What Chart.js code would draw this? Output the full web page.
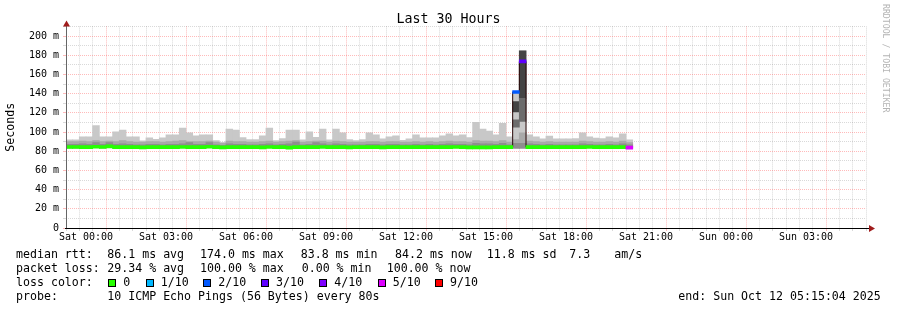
<!DOCTYPE html>
<html>
<head>
<meta charset="utf-8">
<title>Last 30 Hours</title>
<script src="https://cdn.jsdelivr.net/npm/chart.js@4/dist/chart.umd.min.js"></script>
<style>
  body { margin: 0; background: #fff; }
  #wrap { position: relative; width: 897px; height: 310px; font-family: "DejaVu Sans Mono", monospace; color: #000; }
  canvas { position: absolute; left: 0; top: 0; }
  #title { position: absolute; left: 0; top: 11px; width: 897px; text-align: center; font-size: 13.3px; line-height: 16px; }
  #brand { position: absolute; left: 881px; top: 4px; writing-mode: vertical-rl; font-size: 8.2px; line-height: 10px; color: #b4b4b4; }
  .t { position: absolute; white-space: pre; font-size: 11.6px; line-height: 14px; }
  .box { position: absolute; width: 6px; height: 6px; border: 1px solid #000; }
</style>
</head>
<body>
<div id="wrap">
  <canvas id="myChart" width="897" height="310"></canvas>
  <div id="title">Last 30 Hours</div>
  <div id="brand">RRDTOOL / TOBI OETIKER</div>
  <div id="legend"></div>
</div>
<script>
// 15 minute bins from Fri 23:15, values in ms
const pingMax = [
  91.7, 91.7, 95, 95, 106.6, 95, 95, 100, 102, 95,
  95, 90.6, 93.8, 92.4, 93.8, 97, 97, 104, 99, 96,
  97, 97, 91, 89, 103, 102, 94, 92, 92, 96,
  104, 91, 93, 102, 102, 91.7, 100, 94.5, 103, 91.7,
  103, 99, 92, 91, 92, 99, 97, 92.7, 94.8, 96,
  91.3, 92.7, 97, 93.8, 93.8, 93.8, 96, 98, 96, 97,
  94, 110, 103, 101, 97, 109, 95, 141.7, 184.4, 97,
  95, 92.7, 95.8, 92.7, 92.7, 92.7, 93, 99, 95, 93.5,
  93, 95, 93.8, 98, 91.7
];
const pingMin = [
  83.6, 83.6, 83.6, 83.6, 83.8, 83.6, 84.0, 83.6, 83.6, 83.6,
  83.6, 83.4, 83.6, 83.6, 83.6, 83.6, 83.6, 83.8, 83.6, 83.6,
  83.6, 83.8, 83.6, 83.4, 83.6, 83.6, 83.6, 83.6, 83.6, 83.4,
  83.8, 83.6, 83.6, 83.2, 83.6, 83.6, 83.6, 83.6, 83.8, 83.6,
  83.6, 83.6, 83.4, 83.6, 83.6, 83.6, 83.6, 83.4, 83.6, 83.6,
  83.6, 83.6, 83.6, 83.6, 83.6, 83.6, 83.6, 83.6, 83.8, 83.6,
  83.4, 83.2, 83.2, 83.2, 83.6, 83.6, 83.6, 83.3, 83.3, 83.6,
  83.6, 83.6, 83.6, 83.6, 83.6, 83.6, 83.6, 83.6, 83.8, 83.6,
  83.6, 83.6, 83.6, 83.6, 83.2
];
const band2Top = [
  90, 90, 90.5, 90, 91, 90, 90.5, 90, 91, 90,
  89.5, 89.5, 90, 90, 89.5, 90, 90.5, 91, 90, 90,
  90, 90.5, 89.5, 88.5, 90.5, 90, 90, 89.5, 89.5, 90,
  90.5, 89.5, 90, 90.5, 91, 89.5, 90, 90.5, 90.5, 89.5,
  90.5, 90, 89.5, 89.5, 89.5, 90, 90, 89.5, 90, 90,
  89.5, 89.5, 90, 89.5, 90, 89.5, 90, 90.5, 90, 90,
  89.5, 91, 90.5, 90.5, 90, 91, 89.5, 92, 99, 90.5,
  90, 89.5, 90, 89.5, 89.5, 89.5, 89.5, 90.5, 90, 89.5,
  89.5, 90, 89.5, 90.5, 89
];
const band3Top = [
  87, 87, 87.5, 87, 89, 87, 89, 87, 87.5, 87,
  86.5, 86.5, 87, 87, 86.5, 87, 87, 87.5, 89, 87,
  87, 89, 86.5, 86, 87.5, 87, 87, 86.5, 86.5, 87,
  87.5, 86.5, 87, 87.5, 89.5, 86.5, 87, 89, 87.5, 86.5,
  87.5, 87, 86.5, 86.5, 86.5, 87, 87, 86.5, 87, 87,
  86.5, 86.5, 87, 86.5, 87, 86.5, 87, 87.5, 87, 87,
  86.5, 88, 87.5, 87.5, 87, 88, 86.5, 88, 88, 87.5,
  87, 86.5, 87, 86.5, 86.5, 86.5, 86.5, 87.5, 87, 86.5,
  86.5, 87, 86.5, 87.5, 86.5
];
const medianRtt = [
  84.4, 84.4, 84.2, 84.2, 84.6, 84.4, 85.0, 84.2, 84.2, 84.2,
  84.2, 84.0, 84.2, 84.2, 84.2, 84.2, 84.2, 84.4, 84.2, 84.2,
  84.2, 84.6, 84.2, 84.0, 84.2, 84.2, 84.2, 84.2, 84.2, 84.0,
  84.4, 84.2, 84.2, 83.8, 84.2, 84.2, 84.2, 84.2, 84.4, 84.2,
  84.2, 84.2, 84.0, 84.2, 84.2, 84.2, 84.2, 84.0, 84.2, 84.2,
  84.2, 84.2, 84.2, 84.2, 84.2, 84.2, 84.2, 84.2, 84.4, 84.2,
  84.0, 84.0, 84.0, 84.0, 84.2, 84.2, 84.2, 141.7, 173.5, 84.2,
  84.2, 84.2, 84.2, 84.2, 84.2, 84.2, 84.2, 84.2, 84.4, 84.2,
  84.2, 84.2, 84.2, 84.2, 83.8
];
// lost pings out of 10 per bin
const lossTenths = [
  0, 0, 0, 0, 0, 0, 0, 0, 0, 0,
  0, 0, 0, 0, 0, 0, 0, 0, 0, 0,
  0, 0, 0, 0, 0, 0, 0, 0, 0, 0,
  0, 0, 0, 0, 0, 0, 0, 0, 0, 0,
  0, 0, 0, 0, 0, 0, 0, 0, 0, 0,
  0, 0, 0, 0, 0, 0, 0, 0, 0, 0,
  0, 0, 0, 0, 0, 0, 0, 2, 3, 0,
  0, 0, 0, 0, 0, 0, 0, 0, 0, 0,
  0, 0, 0, 0, 5
];
// extra smoke slices inside the two outage bins
const spikeBins = [67, 68];
const spikeGrey = [[105, 112.5], [111, 135]];
const spikeDark = [[121, 131.6], [135, 184.4]];

const lossLevels = ['0', '1/10', '2/10', '3/10', '4/10', '5/10', '9/10'];
const lossLevelTenths = [0, 1, 2, 3, 4, 5, 9];
const lossColors = ['#26ff00', '#00b8ff', '#0059ff', '#5e00ff', '#7e00ff', '#dd00ff', '#ff0000'];

// x axis: hours since Fri 23:15
const xLabelHours = [0.75, 3.75, 6.75, 9.75, 12.75, 15.75, 18.75, 21.75, 24.75, 27.75];
const xLabelText = ['Sat 00:00', 'Sat 03:00', 'Sat 06:00', 'Sat 09:00', 'Sat 12:00',
                    'Sat 15:00', 'Sat 18:00', 'Sat 21:00', 'Sun 00:00', 'Sun 03:00'];
const yLabelValues = [0, 20, 40, 60, 80, 100, 120, 140, 160, 180, 200];
const yLabelText = ['0', '20 m', '40 m', '60 m', '80 m', '100 m', '120 m', '140 m', '160 m', '180 m', '200 m'];

const BIN = 0.25;
const MEDIAN_HALF = 1.5;
const MONO = 'DejaVu Sans Mono';
const RED_GRID = 'rgba(255, 0, 0, 0.27)';
const GREY_GRID = 'rgba(0, 0, 0, 0.15)';

function colorForLoss(n) {
  let c = lossColors[0];
  lossLevelTenths.forEach((t, i) => { if (n >= t) c = lossColors[i]; });
  return c;
}

const center = i => (i + 0.5) * BIN;
const band = (lo, hi) => lo.map((v, i) => ({ x: center(i), y: [v, hi[i]] }));

const medianSteps = medianRtt.map((v, i) => ({ x: i * BIN, y: v }));
medianSteps.push({ x: medianRtt.length * BIN, y: medianRtt[medianRtt.length - 1] });

// grid every 30 min, red every 3 h starting Sat 01:00
const gridHours = [];
for (let h = 0.25; h < 30; h += 0.5) gridHours.push(h);
const isMajor = h => Math.abs(((h - 1.75) % 3 + 3) % 3) < 1e-6;
const xGridColor = c => (c.tick && isMajor(c.tick.value)) ? RED_GRID : GREY_GRID;
const yGridColor = c => (c.tick && c.tick.value % 20 === 0) ? RED_GRID : GREY_GRID;

const axisArrows = {
  id: 'axisArrows',
  afterDraw(chart) {
    const { ctx, chartArea: a } = chart;
    ctx.save();
    ctx.lineWidth = 1;
    ctx.strokeStyle = '#666';
    ctx.beginPath();
    ctx.moveTo(a.left + 0.5, a.bottom);
    ctx.lineTo(a.left + 0.5, a.top - 3);
    ctx.stroke();
    ctx.strokeStyle = '#000';
    ctx.beginPath();
    ctx.moveTo(a.left - 1, a.bottom + 0.5);
    ctx.lineTo(a.right + 4, a.bottom + 0.5);
    ctx.stroke();
    ctx.fillStyle = '#a01c1c';
    ctx.beginPath();
    ctx.moveTo(a.left - 3, a.top);
    ctx.lineTo(a.left + 4, a.top);
    ctx.lineTo(a.left + 0.5, a.top - 6);
    ctx.fill();
    ctx.beginPath();
    ctx.moveTo(a.right + 3, a.bottom - 3);
    ctx.lineTo(a.right + 3, a.bottom + 4);
    ctx.lineTo(a.right + 9, a.bottom + 0.5);
    ctx.fill();
    ctx.restore();
  }
};

function initializeSmokeChart() {
  const ctx = document.getElementById('myChart').getContext('2d');
  new Chart(ctx, {
    type: 'bar',
    data: {
      datasets: [
        { label: 'smoke', data: band(pingMin, pingMax), backgroundColor: '#c8c8c8', order: 6 },
        { label: 'smoke2', data: band(pingMin, band2Top), backgroundColor: '#a9a9a9', order: 5 },
        { label: 'smoke3', data: band(pingMin, band3Top), backgroundColor: '#8e8e8e', order: 4 },
        { label: 'spikeGrey', data: spikeBins.map((b, j) => ({ x: center(b), y: spikeGrey[j] })), backgroundColor: '#6c6c6c', order: 3 },
        { label: 'spikeDark', data: spikeBins.map((b, j) => ({ x: center(b), y: spikeDark[j] })), backgroundColor: '#444444', order: 3 },
        {
          type: 'line', label: 'median steps', data: medianSteps, stepped: 'before',
          borderColor: '#2a0a0a', borderWidth: 1, pointRadius: 0, fill: false, order: 2
        },
        {
          label: 'median', order: 1,
          data: medianRtt.map((v, i) => ({ x: center(i), y: [v - MEDIAN_HALF, v + MEDIAN_HALF] })),
          backgroundColor: c => colorForLoss(lossTenths[c.dataIndex])
        }
      ]
    },
    options: {
      responsive: false,
      animation: false,
      events: [],
      layout: { padding: { left: 0, right: 31, top: 26.4, bottom: 0 } },
      datasets: {
        bar: { grouped: false, barPercentage: 1, categoryPercentage: 1, borderWidth: 0, inflateAmount: 0.4 }
      },
      plugins: { legend: { display: false }, tooltip: { enabled: false }, title: { display: false } },
      scales: {
        x: {
          type: 'linear', min: 0, max: 30, offset: false, z: 1,
          afterBuildTicks: s => { s.ticks = gridHours.map(v => ({ value: v })); },
          afterFit: s => { s.height = 82; },
          grid: { color: xGridColor, tickColor: xGridColor, tickLength: 3, lineWidth: 1 },
          border: { display: false, dash: [1, 1] },
          ticks: {
            autoSkip: false, maxRotation: 0, padding: 0, color: '#000',
            font: { family: MONO, size: 10 },
            callback: v => {
              const k = xLabelHours.findIndex(h => Math.abs(h - v) < 1e-6);
              return k >= 0 ? xLabelText[k] : '';
            }
          }
        },
        y: {
          min: 0, max: 210, z: 1,
          afterFit: s => { s.width = 66; },
          grid: { color: yGridColor, tickColor: yGridColor, tickLength: 3, lineWidth: 1 },
          border: { display: false, dash: [1, 1] },
          ticks: {
            stepSize: 10, autoSkip: false, padding: 4, color: '#000',
            font: { family: MONO, size: 10 },
            callback: v => {
              const k = yLabelValues.indexOf(v);
              return k >= 0 ? yLabelText[k] : '';
            }
          },
          title: {
            display: true, text: 'Seconds', color: '#000',
            font: { family: MONO, size: 11.6 }, padding: { top: 4, bottom: 0 }
          }
        }
      }
    },
    plugins: [axisArrows]
  });
}

function buildLegend() {
  const el = document.getElementById('legend');
  const put = (text, left, top) => {
    const d = document.createElement('div');
    d.className = 't';
    d.textContent = text;
    d.style.left = left + 'px';
    d.style.top = top + 'px';
    el.appendChild(d);
  };
  const rows = [247.3, 261.3, 275.3, 289];
  put('median rtt:', 16, rows[0]);
  put('86.1 ms avg', 107.3, rows[0]);
  put('174.0 ms max', 200, rows[0]);
  put('83.8 ms min', 300.7, rows[0]);
  put('84.2 ms now', 395, rows[0]);
  put('11.8 ms sd', 486.7, rows[0]);
  put('7.3', 569.3, rows[0]);
  put('am/s', 614.3, rows[0]);
  put('packet loss:', 16, rows[1]);
  put('29.34 % avg', 107.3, rows[1]);
  put('100.00 % max', 200, rows[1]);
  put('0.00 % min', 301.7, rows[1]);
  put('100.00 % now', 386.7, rows[1]);
  put('loss color:', 16, rows[2]);
  const boxLeft = [108.3, 145.7, 203.3, 261, 319.3, 377.7, 435];
  lossLevels.forEach((lab, i) => {
    const b = document.createElement('div');
    b.className = 'box';
    b.style.left = boxLeft[i] + 'px';
    b.style.top = '278.5px';
    b.style.background = lossColors[i];
    el.appendChild(b);
    put(lab, boxLeft[i] + 15, rows[2]);
  });
  put('probe:', 16, rows[3]);
  put('10 ICMP Echo Pings (56 Bytes) every 80s', 107.3, rows[3]);
  put('end: Sun Oct 12 05:15:04 2025', 678.3, rows[3]);
}

document.addEventListener('DOMContentLoaded', function () {
  buildLegend();
  initializeSmokeChart();
});
</script>
</body>
</html>
